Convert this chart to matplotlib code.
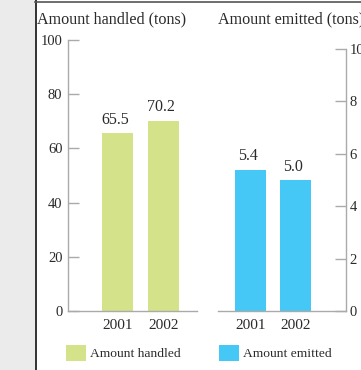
import matplotlib
matplotlib.use("Agg")
import matplotlib.pyplot as plt
from matplotlib.patches import Rectangle
from matplotlib.lines import Line2D

plt.rcParams['font.family'] = ['Liberation Serif', 'DejaVu Serif']

years = ["2001", "2002"]
handled = [65.5, 70.2]
emitted = [5.4, 5.0]
handled_ticks = [0, 20, 40, 60, 80, 100]
emitted_ticks = [0, 2, 4, 6, 8, 10]
handled_title = "Amount handled (tons)"
emitted_title = "Amount emitted (tons)"
legend_labels = ["Amount handled", "Amount emitted"]

GREEN = "#d4e28a"
BLUE = "#45c8f5"
SPINE = "#aaaaaa"
TEXT = "#2a2a2a"

W, H = 361, 370
fig = plt.figure(figsize=(W / 100, H / 100), dpi=100)
fig.patch.set_facecolor("white")


def px_rect(x0, y_top, x1, y_bot):
    return [x0 / W, 1 - y_bot / H, (x1 - x0) / W, (y_bot - y_top) / H]


# grey margin and frame lines
fig.patches.append(Rectangle((0, 0), 35 / W, 1, transform=fig.transFigure,
                             facecolor="#ebebeb", edgecolor="none", zorder=0))
fig.lines.append(Line2D([35.5 / W, 35.5 / W], [0, 1], transform=fig.transFigure,
                        color="#222222", lw=1.3))
fig.lines.append(Line2D([35 / W, 1], [1 - 1.5 / H, 1 - 1.5 / H], transform=fig.transFigure,
                        color="#555555", lw=1.2))

# left panel: amount handled
ax1 = fig.add_axes(px_rect(68, 40, 197, 311))
ax1.bar([0, 1], handled, width=0.674, color=GREEN)
ax1.set_xlim(-1.076, 1.728)
ax1.set_ylim(0, 100)
ax1.set_yticks(handled_ticks)
ax1.set_xticks([0, 1])
ax1.set_xticklabels(years)
for v, x in zip(handled, [0, 1]):
    ax1.text(x - 0.05, v + 2.0, f"{v:.1f}", ha="center", va="bottom",
             fontsize=11.5, color=TEXT)

# right panel: amount emitted
ax2 = fig.add_axes(px_rect(218, 49, 346, 311))
ax2.bar([0, 1], emitted, width=0.689, color=BLUE)
ax2.set_xlim(-0.722, 2.122)
ax2.set_ylim(0, 10)
ax2.set_yticks(emitted_ticks)
ax2.set_xticks([0, 1])
ax2.set_xticklabels(years)
ax2.yaxis.tick_right()
for v, x in zip(emitted, [0, 1]):
    ax2.text(x - 0.05, v + 0.2, f"{v:.1f}", ha="center", va="bottom",
             fontsize=11.5, color=TEXT)

for ax in (ax1, ax2):
    ax.set_facecolor("none")
    for s in ax.spines.values():
        s.set_color(SPINE)
        s.set_linewidth(1.0)
    ax.spines["top"].set_visible(False)
    ax.tick_params(axis="x", length=0, pad=5.5, labelsize=11, labelcolor=TEXT)
    ax.tick_params(axis="y", direction="in", length=8, width=1.0, color=SPINE,
                   labelsize=10.5, labelcolor=TEXT)

ax1.spines["right"].set_visible(False)
ax1.tick_params(axis="y", pad=4)
ax2.spines["left"].set_visible(False)
ax2.tick_params(axis="y", pad=2.5)

# panel titles
fig.text(37 / W, 1 - 19 / H, handled_title, ha="left", va="center",
         fontsize=11.6, color=TEXT)
fig.text(218 / W, 1 - 19 / H, emitted_title, ha="left", va="center",
         fontsize=11.6, color=TEXT)

# legend
for x0, color, label in [(66, GREEN, legend_labels[0]), (219, BLUE, legend_labels[1])]:
    fig.patches.append(Rectangle((x0 / W, 1 - 361 / H), 20 / W, 16 / H,
                                 transform=fig.transFigure, facecolor=color,
                                 edgecolor="none"))
    fig.text((x0 + 24) / W, 1 - 357 / H, label, ha="left", va="baseline",
             fontsize=9.7, color=TEXT)

fig.savefig("out.png", dpi=100)
